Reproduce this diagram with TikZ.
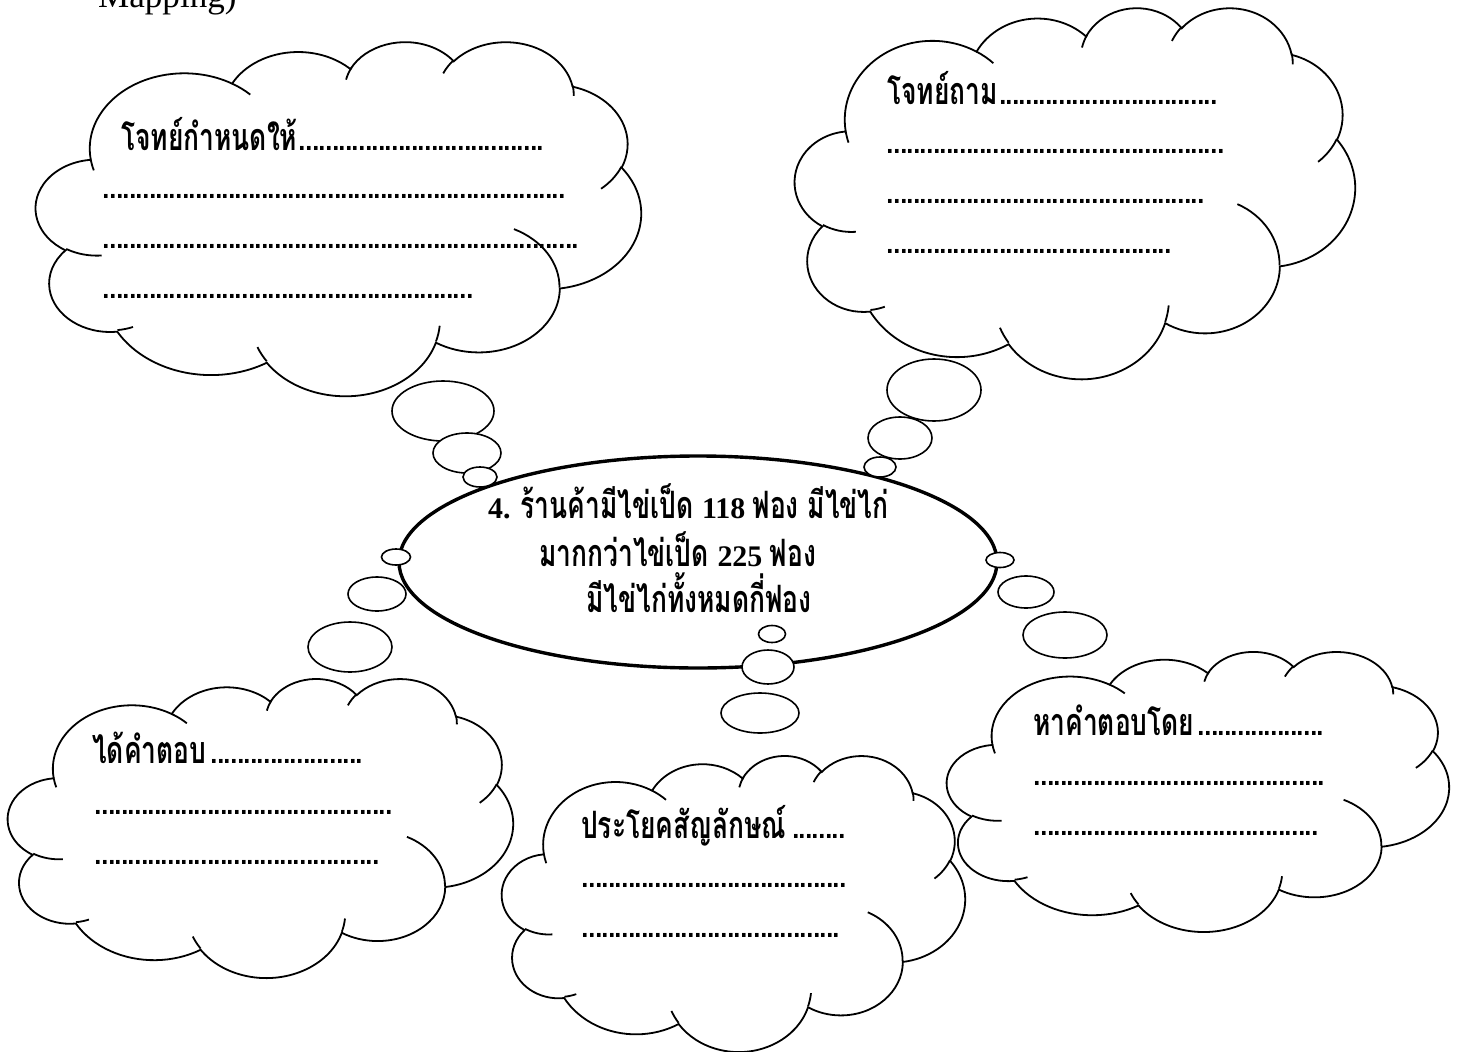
\documentclass[tikz,border=0pt]{standalone}
\usepackage{fontspec}
\usepackage{tikz}
\usetikzlibrary{shapes.geometric}
\setmainfont{Liberation Serif}[Scale=1.15]
\newfontfamily\thai[Script=Thai,Scale=1.45,FakeStretch=0.70]{Loma}

% arc of the cloud outline, angles given as seen on the page
\pgfmathdeclarefunction{vpar}{3}{\pgfmathparse{#1+atan(((#2)-(#3))*sin(#1)*cos(#1)/((#3)*cos(#1)*cos(#1)+(#2)*sin(#1)*sin(#1)))}}
\newcommand\carc[4]{arc[x radius=#1,y radius=#2,start angle={vpar(#3,#1,#2)},end angle={vpar(#3+#4,#1,#2)}]}
\newcommand\dotrule{\leaders\hbox to 6.6pt{\hss.\hss}\hfill}
\newcommand\blank[2]{\makebox[#1pt][l]{#2\dotrule}}

\tikzset{
  cloudline/.style={line width=1.8pt},
  wcloud/.pic={
    \path[cloudline,draw,fill=white] (39,143.7)
      \carc{67.53}{91.90}{-190.4875}{123.7805}
      \carc{53.33}{72.67}{-144.1024}{89.9452}
      \carc{43.65}{59.45}{-145.8079}{99.7230}
      \carc{48.57}{65.95}{-130.9861}{117.2417}
      \carc{53.33}{72.73}{-78.7089}{109.0269}
      \carc{67.75}{92.20}{-46.2673}{130.2690}
      \carc{57.85}{78.67}{0.6250}{114.0333}
      \carc{67.52}{92.15}{22.4516}{115.1726}
      \carc{77.20}{105.43}{66.2426}{75.7110}
      \carc{43.60}{59.18}{-274.9421}{146.7356}
      \carc{43.45}{59.45}{-246.8285}{152.5189} -- cycle;
    \draw[cloudline]
      (46.93,261.77) \carc{43.45}{59.45}{86.7420}{26.4295}
      (69.28,348.99) \carc{43.60}{59.18}{73.6105}{11.4475}
      (164.78,390.90) \carc{67.52}{92.15}{137.6242}{14.0811}
      (288.27,347.51) \carc{67.52}{92.15}{6.4533}{15.9984}
      (341.29,229.54) \carc{57.85}{78.67}{-70.2924}{70.9174}
      (417.98,153.54) \carc{53.33}{72.73}{30.3180}{27.7515}
      (383.24,54.26) \carc{48.57}{65.95}{-13.7443}{14.8589}
      (290.78,39.52) \carc{48.57}{65.95}{-149.1815}{18.1954}
      (221.41,47.20) \carc{43.65}{59.45}{-163.4943}{19.0010}
      (140.00,51.92) \carc{67.53}{91.90}{-66.7070}{12.3194}
      (41.27,157.89) \carc{67.53}{91.90}{157.6544}{11.8582};
  },
  bubble/.style={ellipse,draw,fill=white,line width=1.6pt,inner sep=0pt},
  mainbubble/.style={ellipse,draw,fill=white,line width=3.4pt,inner sep=0pt},
  txt/.style={anchor=base west,inner sep=0pt,font=\thai\bfseries\fontsize{26}{30}\selectfont}
}

\begin{document}
\begin{tikzpicture}[x=1pt,y=-1pt]
\useasboundingbox (0,0) rectangle (1462,1052);
\node[anchor=base west,inner sep=0pt,font=\fontsize{30.5}{35}\selectfont] (head) at (98,7) {Mapping)};

% the five clouds
\pic[xscale=605/432,yscale=354/432] at (36,41) {wcloud};
\pic[xscale=560/432,yscale=371/432] at (795,7) {wcloud};
\pic[xscale=505/432,yscale=299/432] at (8,678) {wcloud};
\pic[xscale=463/432,yscale=296/432] at (502,755) {wcloud};
\pic[xscale=502/432,yscale=280/432] at (947,651) {wcloud};

% the problem in the middle
\node[mainbubble,minimum width=598pt,minimum height=212pt] (problem) at (698,562) {};

% thought bubbles
\node[bubble,minimum width=102pt,minimum height=60pt] (tlC) at (443,411) {};
\node[bubble,minimum width=68pt,minimum height=40pt] (tlB) at (467,453) {};
\node[bubble,minimum width=34pt,minimum height=20pt] (tlA) at (480,477) {};
\node[bubble,minimum width=94pt,minimum height=62pt] (trC) at (934,390) {};
\node[bubble,minimum width=64pt,minimum height=42pt] (trB) at (900,438) {};
\node[bubble,minimum width=32pt,minimum height=20pt] (trA) at (880,467) {};
\node[bubble,minimum width=84pt,minimum height=50pt] (lfC) at (350,647) {};
\node[bubble,minimum width=58pt,minimum height=34pt] (lfB) at (377,594) {};
\node[bubble,minimum width=29pt,minimum height=16pt] (lfA) at (396,557) {};
\node[bubble,minimum width=84pt,minimum height=46pt] (rtC) at (1065,635) {};
\node[bubble,minimum width=56pt,minimum height=32pt] (rtB) at (1026,592) {};
\node[bubble,minimum width=28pt,minimum height=15pt] (rtA) at (1000,560) {};
\node[bubble,minimum width=78pt,minimum height=40pt] (btC) at (760,713) {};
\node[bubble,minimum width=52pt,minimum height=34pt] (btB) at (768,667) {};
\node[bubble,minimum width=27pt,minimum height=17pt] (btA) at (772,634) {};

% problem text
\node[txt] (probA) at (488,518) {\rmfamily 4.\hspace{10pt}\thai ร้านค้ามีไข่เป็ด \rmfamily 118 \thai ฟอง มีไข่ไก่};
\node[txt] (probB) at (539,566) {มากกว่าไข่เป็ด \rmfamily 225 \thai ฟอง};
\node[txt] (probC) at (586,612) {มีไข่ไก่ทั้งหมดกี่ฟอง};

% cloud texts
\node[txt] (givenA) at (121,150) {\blank{427}{โจทย์กำหนดให้}};
\node[txt] (givenB) at (103,198) {\blank{467}{}};
\node[txt] (givenC) at (103,248) {\blank{478}{}};
\node[txt] (givenD) at (103,298) {\blank{374}{}};
\node[txt] (askA) at (887,104) {\blank{334}{โจทย์ถาม}};
\node[txt] (askB) at (887,153) {\blank{337}{}};
\node[txt] (askC) at (887,203) {\blank{318}{}};
\node[txt] (askD) at (887,253) {\blank{288}{}};
\node[txt] (ansA) at (92,763) {\blank{276}{ได้คำตอบ}};
\node[txt] (ansB) at (95,814) {\blank{298}{}};
\node[txt] (ansC) at (95,864) {\blank{287}{}};
\node[txt] (sentA) at (581,838) {\blank{266}{ประโยคสัญลักษณ์}};
\node[txt] (sentB) at (582,887) {\blank{267}{}};
\node[txt] (sentC) at (582,937) {\blank{261}{}};
\node[txt] (howA) at (1033,735) {\blank{295}{หาคำตอบโดย}};
\node[txt] (howB) at (1034,785) {\blank{293}{}};
\node[txt] (howC) at (1034,835) {\blank{286}{}};
\end{tikzpicture}
\end{document}
